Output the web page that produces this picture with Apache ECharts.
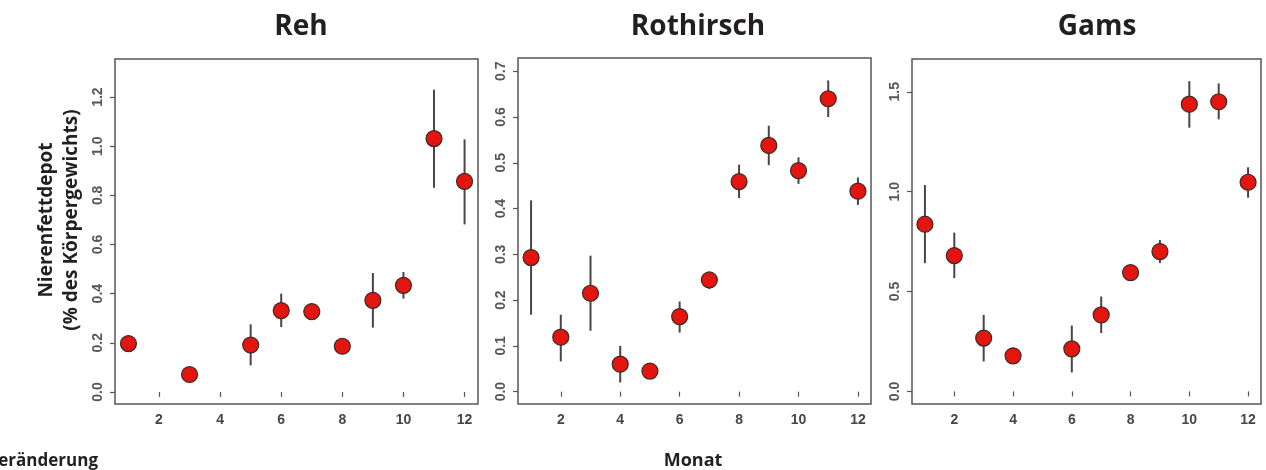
<!DOCTYPE html>
<html>
<head>
<meta charset="utf-8">
<script src="https://cdn.jsdelivr.net/npm/echarts@6/dist/echarts.min.js"></script>
<style>
  html, body { margin: 0; padding: 0; background: #fff; }
  #chart { width: 1266px; height: 470px; }
</style>
</head>
<body>
<div id="chart"></div>
<script>
// Reh
var rehMonths = [1, 3, 5, 6, 7, 8, 9, 10, 11, 12];
var rehMean = [0.197, 0.071, 0.191, 0.331, 0.327, 0.186, 0.373, 0.434, 1.031, 0.857];
var rehLow = [0.197, 0.071, 0.108, 0.264, 0.327, 0.186, 0.262, 0.38, 0.831, 0.682];
var rehHigh = [0.197, 0.071, 0.275, 0.40, 0.327, 0.186, 0.484, 0.488, 1.23, 1.028];

// Rothirsch
var rotMonths = [1, 2, 3, 4, 5, 6, 7, 8, 9, 10, 11, 12];
var rotMean = [0.293, 0.119, 0.215, 0.060, 0.045, 0.164, 0.244, 0.459, 0.538, 0.483, 0.640, 0.438];
var rotLow = [0.168, 0.066, 0.133, 0.020, 0.045, 0.129, 0.224, 0.423, 0.495, 0.454, 0.600, 0.408];
var rotHigh = [0.418, 0.168, 0.297, 0.100, 0.045, 0.197, 0.260, 0.496, 0.581, 0.512, 0.680, 0.468];

// Gams
var gamsMonths = [1, 2, 3, 4, 6, 7, 8, 9, 10, 11, 12];
var gamsMean = [0.837, 0.68, 0.267, 0.178, 0.213, 0.383, 0.595, 0.70, 1.438, 1.45, 1.047];
var gamsLow = [0.642, 0.567, 0.15, 0.178, 0.095, 0.292, 0.595, 0.642, 1.32, 1.362, 0.97];
var gamsHigh = [1.033, 0.795, 0.383, 0.178, 0.33, 0.475, 0.595, 0.758, 1.553, 1.542, 1.122];

// Achsen
var monthTicks = [2, 4, 6, 8, 10, 12];
var rehTicks = [0, 0.2, 0.4, 0.6, 0.8, 1.0, 1.2];
var rotTicks = [0, 0.1, 0.2, 0.3, 0.4, 0.5, 0.6, 0.7];
var gamsTicks = [0, 0.5, 1.0, 1.5];
var panelTitles = ['Reh', 'Rothirsch', 'Gams'];

var labelFont = 'Liberation Sans';
var textFont = 'Open Sans';

var grids = [
  { left: 115, top: 59, width: 363, height: 345, yMin: -0.049, yMax: 1.355, titleX: 296 },
  { left: 518, top: 58, width: 353, height: 346, yMin: -0.027, yMax: 0.729, titleX: 693 },
  { left: 912, top: 59, width: 349, height: 345, yMin: -0.063, yMax: 1.664, titleX: 1092 }
];
var yTicks = [rehTicks, rotTicks, gamsTicks];

function xAxisFor(i) {
  return {
    type: 'value',
    gridIndex: i,
    min: 0.56,
    max: 12.44,
    axisLine: { show: false },
    splitLine: { show: false },
    axisTick: {
      show: true,
      length: 5,
      customValues: monthTicks,
      lineStyle: { color: '#555', width: 1.2 }
    },
    axisLabel: {
      customValues: monthTicks,
      margin: 9,
      fontSize: 14,
      fontWeight: 'bold',
      fontFamily: labelFont,
      color: '#4a4446'
    }
  };
}

function yAxisFor(i) {
  return {
    type: 'value',
    gridIndex: i,
    min: grids[i].yMin,
    max: grids[i].yMax,
    axisLine: { show: false },
    splitLine: { show: false },
    axisTick: {
      show: true,
      length: 5,
      customValues: yTicks[i],
      lineStyle: { color: '#555', width: 1.2 }
    },
    axisLabel: {
      customValues: yTicks[i],
      rotate: 90,
      margin: 10,
      fontSize: 14,
      fontWeight: 'bold',
      fontFamily: labelFont,
      color: '#5a5456',
      formatter: function (v) {
        return v.toFixed(1);
      }
    }
  };
}

function pairs(xs, ys) {
  return xs.map(function (x, k) {
    return [x, ys[k]];
  });
}

function bars(xs, lo, hi) {
  return xs.map(function (x, k) {
    return [x, lo[k], hi[k]];
  });
}

function errorSeries(i, data) {
  return {
    type: 'custom',
    xAxisIndex: i,
    yAxisIndex: i,
    z: 1,
    silent: true,
    renderItem: function (params, api) {
      var p1 = api.coord([api.value(0), api.value(1)]);
      var p2 = api.coord([api.value(0), api.value(2)]);
      return {
        type: 'line',
        shape: { x1: p1[0], y1: p1[1], x2: p2[0], y2: p2[1] },
        style: { stroke: '#4a4446', lineWidth: 2 }
      };
    },
    encode: { x: 0, y: [1, 2] },
    data: data
  };
}

function pointSeries(i, data) {
  return {
    type: 'scatter',
    xAxisIndex: i,
    yAxisIndex: i,
    z: 2,
    symbol: 'circle',
    symbolSize: 16,
    itemStyle: {
      color: '#e4140e',
      borderColor: '#3a2a2a',
      borderWidth: 1.2,
      opacity: 1
    },
    data: data
  };
}

var option = {
  backgroundColor: '#fff',
  animation: false,
  title: panelTitles.map(function (t, i) {
    return {
      text: t,
      left: grids[i].titleX,
      top: 8,
      textAlign: 'center',
      textStyle: {
        fontFamily: textFont,
        fontWeight: 'bold',
        fontSize: 28,
        color: '#231f20'
      }
    };
  }),
  grid: grids.map(function (g) {
    return {
      left: g.left,
      top: g.top,
      width: g.width,
      height: g.height,
      show: true,
      borderColor: '#5a5456',
      borderWidth: 1.5,
      backgroundColor: 'transparent'
    };
  }),
  xAxis: [xAxisFor(0), xAxisFor(1), xAxisFor(2)],
  yAxis: [yAxisFor(0), yAxisFor(1), yAxisFor(2)],
  series: [
    errorSeries(0, bars(rehMonths, rehLow, rehHigh)),
    pointSeries(0, pairs(rehMonths, rehMean)),
    errorSeries(1, bars(rotMonths, rotLow, rotHigh)),
    pointSeries(1, pairs(rotMonths, rotMean)),
    errorSeries(2, bars(gamsMonths, gamsLow, gamsHigh)),
    pointSeries(2, pairs(gamsMonths, gamsMean))
  ],
  graphic: [
    {
      type: 'text',
      x: 47,
      y: 220,
      rotation: Math.PI / 2,
      style: {
        text: 'Nierenfettdepot',
        fontFamily: textFont,
        fontWeight: 'bold',
        fontSize: 19,
        fill: '#231f20',
        align: 'center',
        verticalAlign: 'middle'
      }
    },
    {
      type: 'text',
      x: 72,
      y: 220,
      rotation: Math.PI / 2,
      style: {
        text: '(% des Körpergewichts)',
        fontFamily: textFont,
        fontWeight: 'bold',
        fontSize: 19,
        fill: '#231f20',
        align: 'center',
        verticalAlign: 'middle'
      }
    },
    {
      type: 'text',
      x: 98,
      y: 461,
      style: {
        text: 'Fettveränderung',
        fontFamily: textFont,
        fontWeight: 'bold',
        fontSize: 17,
        fill: '#231f20',
        align: 'right',
        verticalAlign: 'middle'
      }
    },
    {
      type: 'text',
      x: 693,
      y: 461,
      style: {
        text: 'Monat',
        fontFamily: textFont,
        fontWeight: 'bold',
        fontSize: 18,
        fill: '#231f20',
        align: 'center',
        verticalAlign: 'middle'
      }
    }
  ]
};

var chart = echarts.init(document.getElementById('chart'));
chart.setOption(option);
</script>
</body>
</html>
